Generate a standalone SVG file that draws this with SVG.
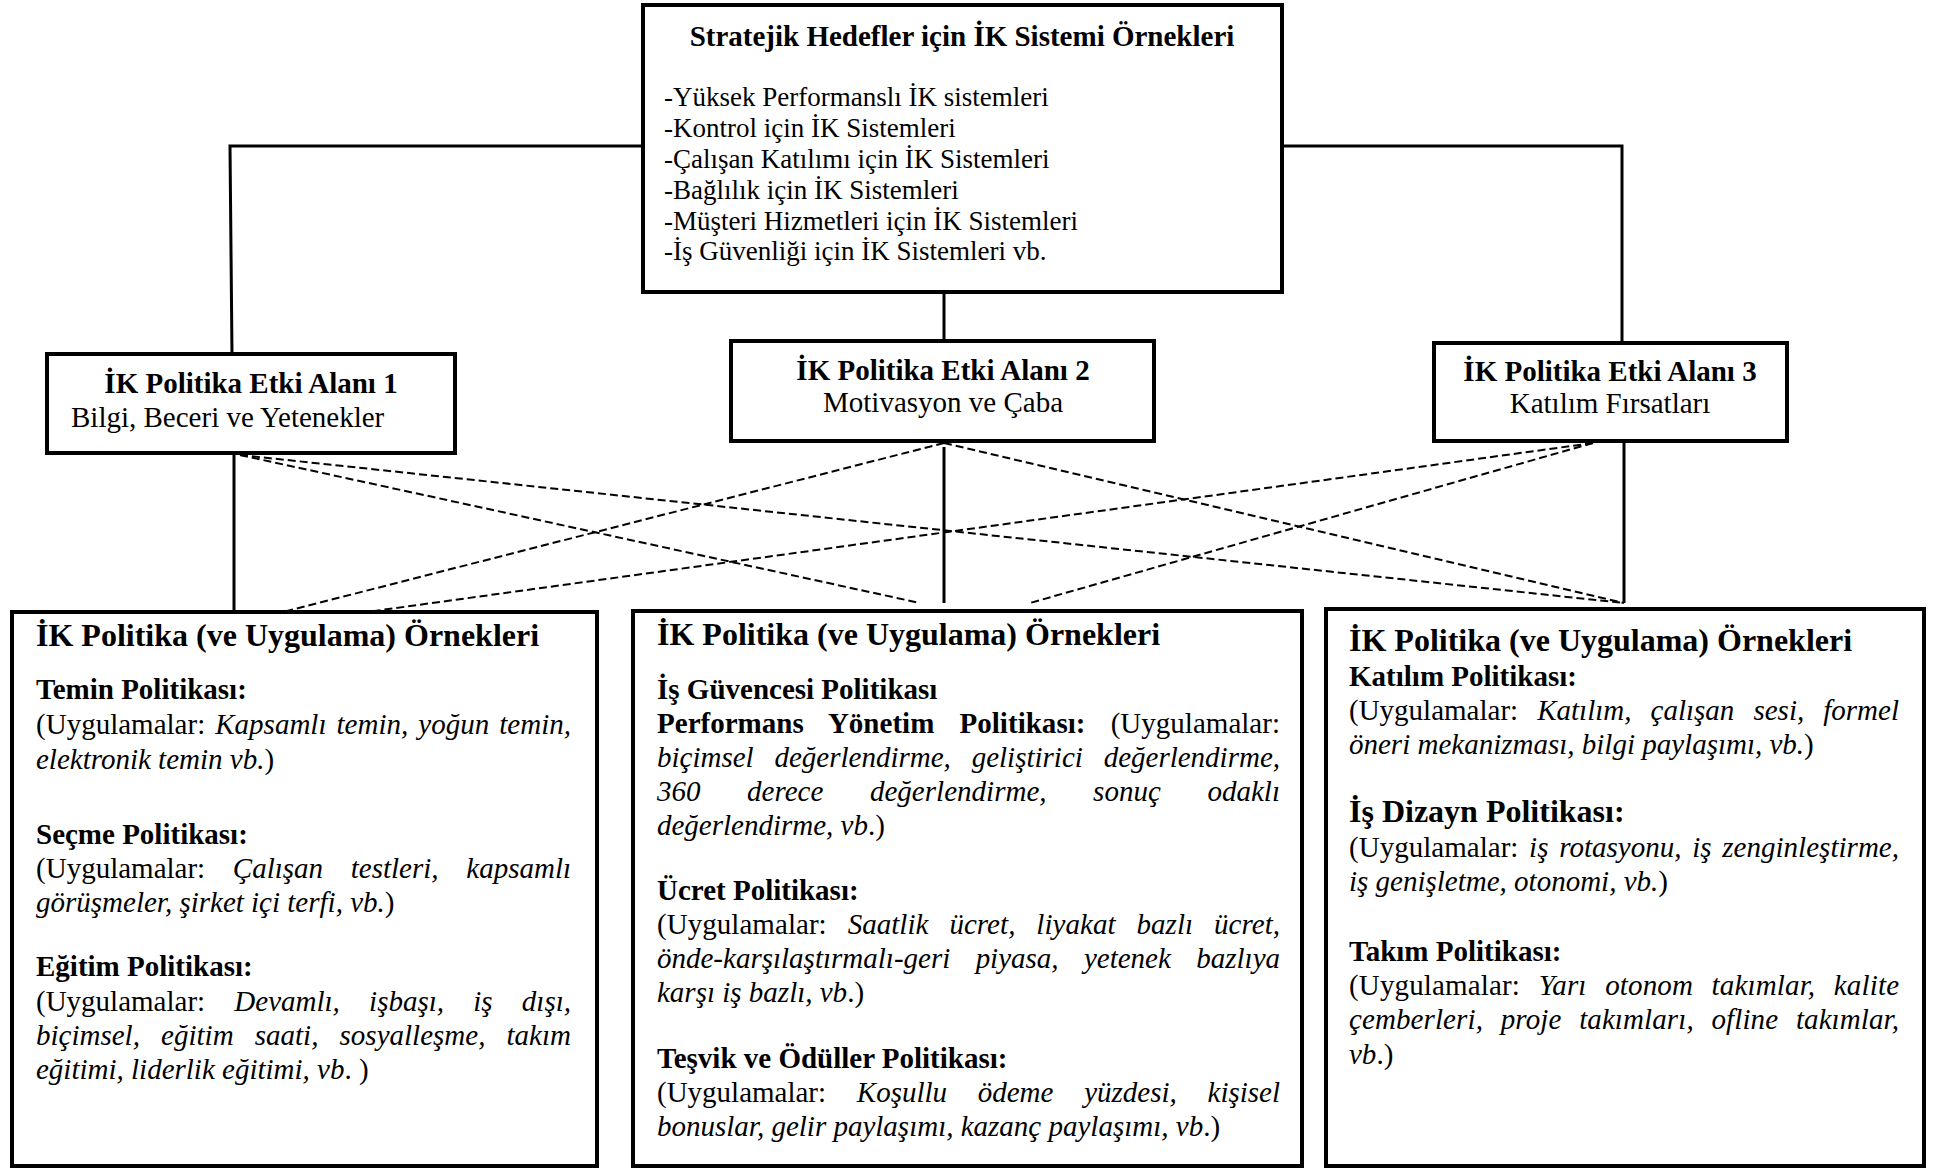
<svg xmlns="http://www.w3.org/2000/svg" width="1933" height="1170" viewBox="0 0 1933 1170">
<style>
.box{fill:#fff;stroke:#000;stroke-width:4}
.ln{fill:none;stroke:#000;stroke-width:3}
.dl{fill:none;stroke:#000;stroke-width:2;stroke-dasharray:8 4}
text{font-family:"Liberation Serif","Times New Roman",serif;fill:#000}
.h{font-weight:bold;font-size:32px}
.b{font-weight:bold;font-size:29px}
.r{font-size:29px}
.s{font-size:27px}
.i{font-style:italic}
.c{text-anchor:middle}
</style>
<rect width="1933" height="1170" fill="#fff"/>
<g id="connectors">
<polyline class="ln" points="643,146 230,146 232,354"/>
<polyline class="ln" points="1282,146 1622,146 1622,343"/>
<line class="ln" x1="944" y1="292" x2="944" y2="341"/>
<line class="ln" x1="234" y1="453" x2="234" y2="612"/>
<line class="ln" x1="944" y1="447" x2="944" y2="603"/>
<line class="ln" x1="1624" y1="441" x2="1624" y2="603"/>
<line class="dl" x1="240" y1="455" x2="920" y2="603"/>
<line class="dl" x1="240" y1="455" x2="1624" y2="603"/>
<line class="dl" x1="944" y1="443" x2="283" y2="612"/>
<line class="dl" x1="944" y1="443" x2="1624" y2="603"/>
<line class="dl" x1="1593" y1="443" x2="367" y2="612"/>
<line class="dl" x1="1593" y1="443" x2="1030" y2="603"/>
</g>
<g id="n-top">
<rect class="box" x="643" y="5" width="639" height="287"/>
<text class="c" x="962" y="46" font-weight="bold" font-size="29">Stratejik Hedefler için İK Sistemi Örnekleri</text>
<text class="s" x="664" y="106">-Yüksek Performanslı İK sistemleri</text>
<text class="s" x="664" y="137">-Kontrol için İK Sistemleri</text>
<text class="s" x="664" y="168">-Çalışan Katılımı için İK Sistemleri</text>
<text class="s" x="664" y="199">-Bağlılık için İK Sistemleri</text>
<text class="s" x="664" y="230">-Müşteri Hizmetleri için İK Sistemleri</text>
<text class="s" x="664" y="260">-İş Güvenliği için İK Sistemleri vb.</text>
</g>
<g id="n-alan1">
<rect class="box" x="47" y="354" width="408" height="99"/>
<text class="b c" x="251" y="393">İK Politika Etki Alanı 1</text>
<text class="r" x="71" y="427">Bilgi, Beceri ve Yetenekler</text>
</g>
<g id="n-alan2">
<rect class="box" x="731" y="341" width="423" height="100"/>
<text class="b c" x="943" y="380">İK Politika Etki Alanı 2</text>
<text class="r c" x="943" y="412">Motivasyon ve Çaba</text>
</g>
<g id="n-alan3">
<rect class="box" x="1434" y="343" width="353" height="98"/>
<text class="b c" x="1610" y="381">İK Politika Etki Alanı 3</text>
<text class="r c" x="1610" y="413">Katılım Fırsatları</text>
</g>
<g id="n-ornek1">
<rect class="box" x="12" y="612" width="585" height="554"/>
<text class="h" x="36" y="646">İK Politika (ve Uygulama) Örnekleri</text>
<text class="b" x="36" y="699">Temin Politikası:</text>
<text class="r" x="36" y="734" word-spacing="2.8" textLength="535" lengthAdjust="spacing">(Uygulamalar: <tspan class="i">Kapsamlı temin, yoğun temin,</tspan></text>
<text class="r" x="36" y="769"><tspan class="i">elektronik temin vb.</tspan>)</text>
<text class="b" x="36" y="844">Seçme Politikası:</text>
<text class="r" x="36" y="878" word-spacing="20.4" textLength="535" lengthAdjust="spacing">(Uygulamalar: <tspan class="i">Çalışan testleri, kapsamlı</tspan></text>
<text class="r" x="36" y="912"><tspan class="i">görüşmeler, şirket içi terfi, vb.</tspan>)</text>
<text class="b" x="36" y="976">Eğitim Politikası:</text>
<text class="r" x="36" y="1011" word-spacing="22" textLength="535" lengthAdjust="spacing">(Uygulamalar: <tspan class="i">Devamlı, işbaşı, iş dışı,</tspan></text>
<text class="r i" x="36" y="1045" word-spacing="13.9" textLength="535" lengthAdjust="spacing">biçimsel, eğitim saati, sosyalleşme, takım</text>
<text class="r" x="36" y="1079"><tspan class="i">eğitimi, liderlik eğitimi, vb</tspan>. )</text>
</g>
<g id="n-ornek2">
<rect class="box" x="633" y="611" width="669" height="555"/>
<text class="h" x="657" y="645">İK Politika (ve Uygulama) Örnekleri</text>
<text class="b" x="657" y="699">İş Güvencesi Politikası</text>
<text class="r" x="657" y="733" word-spacing="17.9" textLength="623" lengthAdjust="spacing"><tspan font-weight="bold">Performans Yönetim Politikası:</tspan> (Uygulamalar:</text>
<text class="r i" x="657" y="767" word-spacing="13.6" textLength="623" lengthAdjust="spacing">biçimsel değerlendirme, geliştirici değerlendirme,</text>
<text class="r i" x="657" y="801" word-spacing="39.2" textLength="623" lengthAdjust="spacing">360 derece değerlendirme, sonuç odaklı</text>
<text class="r" x="657" y="835"><tspan class="i">değerlendirme, vb</tspan>.)</text>
<text class="b" x="657" y="900">Ücret Politikası:</text>
<text class="r" x="657" y="934" word-spacing="13.6" textLength="623" lengthAdjust="spacing">(Uygulamalar: <tspan class="i">Saatlik ücret, liyakat bazlı ücret,</tspan></text>
<text class="r i" x="657" y="968" word-spacing="18.1" textLength="623" lengthAdjust="spacing">önde-karşılaştırmalı-geri piyasa, yetenek bazlıya</text>
<text class="r" x="657" y="1002"><tspan class="i">karşı iş bazlı, vb</tspan>.)</text>
<text class="b" x="657" y="1068">Teşvik ve Ödüller Politikası:</text>
<text class="r" x="657" y="1102" word-spacing="23.5" textLength="623" lengthAdjust="spacing">(Uygulamalar: <tspan class="i">Koşullu ödeme yüzdesi, kişisel</tspan></text>
<text class="r" x="657" y="1136"><tspan class="i">bonuslar, gelir paylaşımı, kazanç paylaşımı, vb</tspan>.)</text>
</g>
<g id="n-ornek3">
<rect class="box" x="1326" y="609" width="598" height="557"/>
<text class="h" x="1349" y="651">İK Politika (ve Uygulama) Örnekleri</text>
<text class="b" x="1349" y="686">Katılım Politikası:</text>
<text class="r" x="1349" y="720" word-spacing="11.8" textLength="550" lengthAdjust="spacing">(Uygulamalar: <tspan class="i">Katılım, çalışan sesi, formel</tspan></text>
<text class="r" x="1349" y="754"><tspan class="i">öneri mekanizması, bilgi paylaşımı, vb.</tspan>)</text>
<text class="h" x="1349" y="822">İş Dizayn Politikası:</text>
<text class="r" x="1349" y="857" word-spacing="3.4" textLength="550" lengthAdjust="spacing">(Uygulamalar: <tspan class="i">iş rotasyonu, iş zenginleştirme,</tspan></text>
<text class="r" x="1349" y="891"><tspan class="i">iş genişletme, otonomi, vb.</tspan>)</text>
<text class="b" x="1349" y="961">Takım Politikası:</text>
<text class="r" x="1349" y="995" word-spacing="11.2" textLength="550" lengthAdjust="spacing">(Uygulamalar: <tspan class="i">Yarı otonom takımlar, kalite</tspan></text>
<text class="r i" x="1349" y="1029" word-spacing="10.4" textLength="550" lengthAdjust="spacing">çemberleri, proje takımları, ofline takımlar,</text>
<text class="r" x="1349" y="1064"><tspan class="i">vb</tspan>.)</text>
</g>
</svg>
